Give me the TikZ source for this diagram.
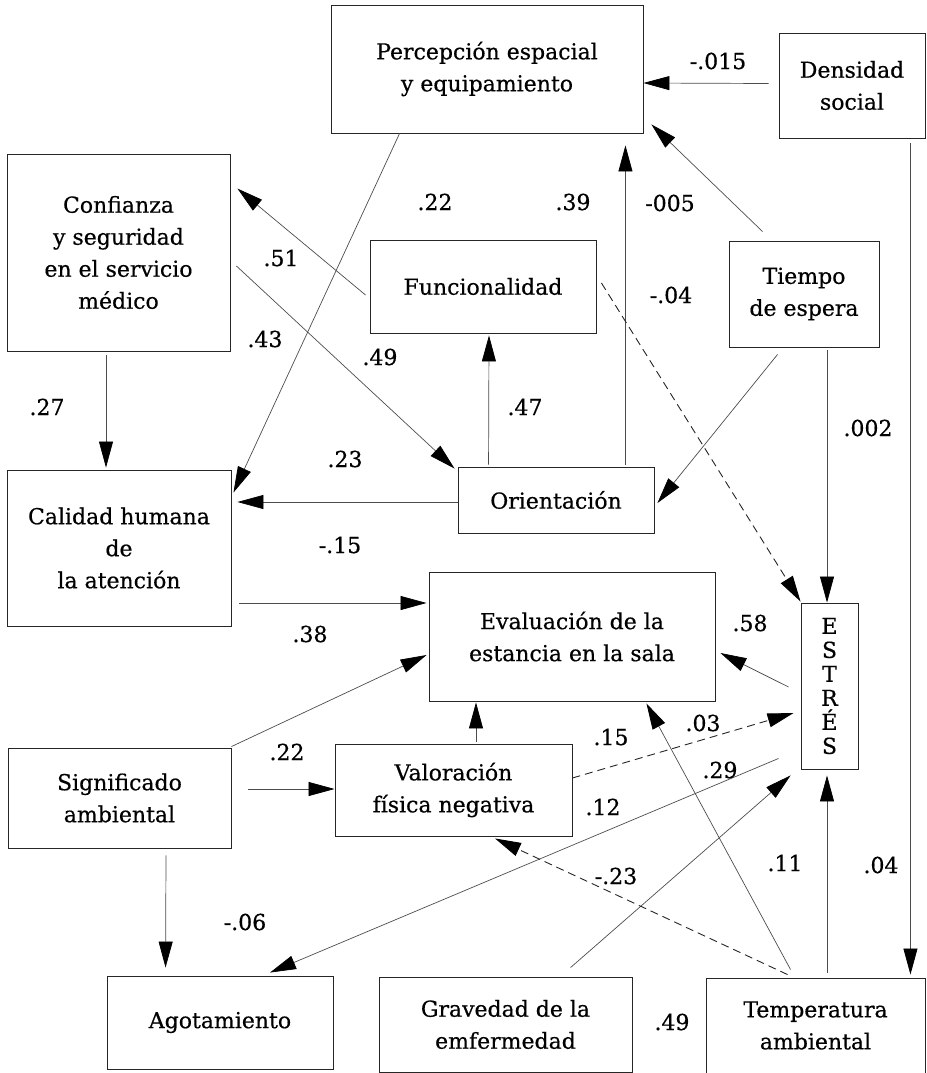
\documentclass[tikz,border=0pt]{standalone}
\usepackage{fontspec}
\setmainfont{DejaVu Serif}[FakeBold=0.5]
\usetikzlibrary{arrows.meta,calc}
\begin{document}
\begin{tikzpicture}[x=1pt,y=-1pt,
  box/.style={draw=black!85,line width=0.9pt,inner sep=0pt,align=center,
    font=\fontsize{22}{32}\selectfont},
  lbl/.style={font=\fontsize{22}{26}\selectfont,inner sep=0pt},
  conn/.style={draw=black!70,line width=0.7pt,-{Triangle[length=26pt,width=14pt,color=black]}},
  dconn/.style={conn,draw=black!85,line width=0.9pt,dash pattern=on 8pt off 5pt}]
\useasboundingbox (0,0) rectangle (926,1073);
% boxes
\node[box,minimum width=312pt,minimum height=128pt] (perc) at (487,69) {Percepción espacial\\y equipamiento};
\node[box,minimum width=146pt,minimum height=105pt] (dens) at (852,85.5) {Densidad\\social};
\node[box,minimum width=223pt,minimum height=197pt] (conf) at (118.5,252.5) {Confianza\\y seguridad\\en el servicio\\médico};
\node[box,minimum width=226pt,minimum height=93pt] (func) at (483,286.5) {Funcionalidad};
\node[box,minimum width=150pt,minimum height=106pt] (tiem) at (804,294) {Tiempo\\de espera};
\node[box,minimum width=224pt,minimum height=156pt] (cal) at (119,548) {Calidad humana\\de\\la atención};
\node[box,minimum width=196pt,minimum height=66pt] (ori) at (556,500) {Orientación};
\node[box,minimum width=286pt,minimum height=129pt] (eval) at (572,636.5) {Evaluación de la\\estancia en la sala};
\node[box,minimum width=57pt,minimum height=166pt,font=\fontsize{22}{24}\selectfont] (estr) at (829.5,686) {E\\S\\T\\R\\É\\S};
\node[box,minimum width=223pt,minimum height=100pt] (sig) at (119.5,798) {Significado\\ambiental};
\node[box,minimum width=237pt,minimum height=92pt] (val) at (453.5,790) {Valoración\\física negativa};
\node[box,minimum width=226pt,minimum height=93pt] (agot) at (220,1022.5) {Agotamiento};
\node[box,minimum width=253pt,minimum height=95pt] (grav) at (505.5,1024.5) {Gravedad de la\\emfermedad};
\node[box,minimum width=219pt,minimum height=95pt] (temp) at (815.5,1025.5) {Temperatura\\ambiental};
% connectors
\draw[conn] ($(dens.west)+(-10,-2)$) -- ($(perc.east)+(0,14)$);
\draw[conn] ($(tiem.north west)+(34,-9)$) -- ($(perc.south east)+(8,-9)$);
\draw[conn] ($(ori.north east)+(-29,-2)$) -- ($(perc.south east)+(-18,12)$);
\draw[conn] ($(perc.south west)+(69,0)$) -- ($(cal.north east)+(2,23)$);
\draw[conn] ($(func.west)+(-4,8.5)$) -- ($(conf.north east)+(7,35)$);
\draw[conn] ($(conf.east)+(6,13.5)$) -- ($(ori.north west)+(-3,2)$);
\draw[conn] ($(conf.south)+(-12.5,4)$) -- ($(cal.north)+(-13,-2)$);
\draw[conn] ($(ori.north west)+(31,-2)$) -- ($(func.south)+(6,2)$);
\draw[conn] ($(ori.west)+(0,2)$) -- ($(cal.east)+(6,-46)$);
\draw[dconn] ($(func.east)+(5,-3.5)$) -- ($(estr.north west)+(0,-1)$);
\draw[conn] ($(tiem.south west)+(49,7)$) -- ($(ori.east)+(3,3)$);
\draw[conn] ($(tiem.south)+(23,3)$) -- ($(estr.north)+(-2.5,0)$);
\draw[conn] ($(dens.south east)+(-15,5)$) -- ($(temp.north east)+(-15,-3)$);
\draw[conn] ($(cal.east)+(8,55)$) -- ($(eval.west)+(-2,-33.5)$);
\draw[conn] ($(sig.north east)+(0,-1)$) -- ($(eval.west)+(-2,18.5)$);
\draw[conn] ($(sig.east)+(17,-9)$) -- ($(val.west)+(0,-1)$);
\draw[conn] ($(val.north)+(22.5,-2)$) -- ($(eval.south)+(-96,1)$);
\draw[conn] ($(estr.west)+(-12,1)$) -- ($(eval.east)+(5,16.5)$);
\draw[dconn] ($(val.east)+(0,-12)$) -- ($(estr.west)+(-7,27)$);
\draw[conn] ($(temp.north west)+(85,-8)$) -- ($(eval.south east)+(-69,2)$);
\draw[conn] ($(estr.south west)+(-22,-11)$) -- ($(agot.north)+(50,-3)$);
\draw[conn] ($(grav.north west)+(192,-9)$) -- ($(estr.south west)+(-10,6)$);
\draw[dconn] ($(temp.north west)+(82,-3)$) -- ($(val.south)+(41.5,2)$);
\draw[conn] ($(temp.north)+(11.5,-5)$) -- ($(estr.south)+(-2.5,6)$);
\draw[conn] ($(sig.south)+(46.5,7)$) -- ($(agot.north west)+(59,-8)$);
% labels
\node[lbl] (l1) at (718,61) {-.015};
\node[lbl] (l2) at (670,203) {-005};
\node[lbl] (l3) at (573,202) {.39};
\node[lbl] (l4) at (435,202) {.22};
\node[lbl] (l5) at (281,258) {.51};
\node[lbl] (l6) at (265,339) {.43};
\node[lbl] (l7) at (380,357) {.49};
\node[lbl] (l8) at (671,295) {-.04};
\node[lbl] (l9) at (47,407) {.27};
\node[lbl] (l10) at (525,407) {.47};
\node[lbl] (l11) at (868,428) {.002};
\node[lbl] (l12) at (345,459) {.23};
\node[lbl] (l13) at (340,545) {-.15};
\node[lbl] (l14) at (310,634) {.38};
\node[lbl] (l15) at (750,623) {.58};
\node[lbl] (l16) at (287,752) {.22};
\node[lbl] (l17) at (611,737) {.15};
\node[lbl] (l18) at (703,723) {.03};
\node[lbl] (l19) at (720,770) {.29};
\node[lbl] (l20) at (603,807) {.12};
\node[lbl] (l21) at (616,876) {-.23};
\node[lbl] (l22) at (785,863) {.11};
\node[lbl] (l23) at (881,865) {.04};
\node[lbl] (l24) at (245,922) {-.06};
\node[lbl] (l25) at (672,1022) {.49};
\end{tikzpicture}
\end{document}
